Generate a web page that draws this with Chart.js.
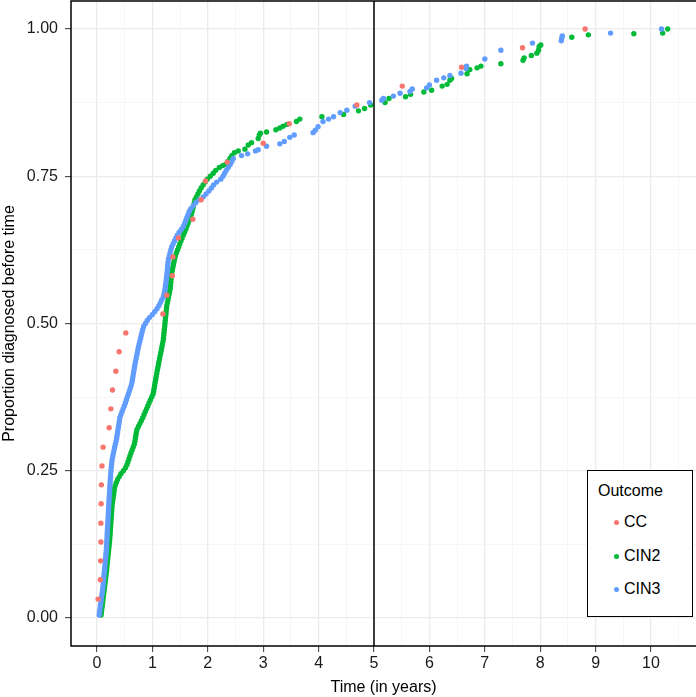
<!DOCTYPE html>
<html>
<head>
<meta charset="utf-8">
<script src="https://cdn.jsdelivr.net/npm/chart.js@4.4.0/dist/chart.umd.min.js"></script>
<style>
html, body { margin: 0; padding: 0; background: #fff; overflow: hidden; }
#wrap { position: relative; width: 696px; height: 697px; overflow: hidden; }
#legend { position: absolute; left: 587px; top: 470px; width: 106px; height: 147px; border: 1.5px solid #000; background: #fff; box-sizing: border-box; font-family: "Liberation Sans", Arial, sans-serif; font-size: 16px; color: #000; }
#legend .ttl { position: absolute; left: 10px; top: 10px; line-height: 20px; }
#legend .row { position: absolute; left: 0; height: 20px; line-height: 20px; }
#legend .dot { position: absolute; left: 26px; top: 8px; width: 5px; height: 5px; border-radius: 50%; }
#legend .lab { position: absolute; left: 36px; top: 0; white-space: nowrap; }
</style>
</head>
<body>
<div id="wrap">
  <canvas id="grafica" width="696" height="697"></canvas>
  <div id="legend"></div>
</div>
<script>
// Series names and colours (ggplot defaults)
var outcomes = ['CC', 'CIN2', 'CIN3'];
var colores = ['#F8766D', '#00BA38', '#619CFF'];

// CC: time (years) and proportion diagnosed before time
var ccYears = [0.02, 0.06, 0.065, 0.07, 0.07, 0.075, 0.08, 0.09, 0.11, 0.22, 0.25, 0.28, 0.34, 0.40, 0.52,
  1.19, 1.26, 1.36, 1.37, 1.47, 1.73, 1.88, 1.96, 2.35, 3.00, 3.47, 4.69, 5.51, 6.58, 7.68, 8.81];
var ccProp = [0.032, 0.065, 0.097, 0.129, 0.161, 0.194, 0.226, 0.258, 0.290, 0.323, 0.355, 0.387, 0.419, 0.452, 0.484,
  0.516, 0.548, 0.581, 0.613, 0.645, 0.677, 0.710, 0.742, 0.774, 0.806, 0.839, 0.871, 0.903, 0.935, 0.968, 1.000];

// CIN2
var cin2Years = [0.074, 0.081, 0.087, 0.094, 0.101, 0.107, 0.114, 0.120, 0.127, 0.134, 0.140, 0.147, 0.153, 0.160, 0.167,
  0.172, 0.178, 0.183, 0.189, 0.194, 0.199, 0.205, 0.210, 0.216, 0.221, 0.227, 0.231, 0.235, 0.239, 0.242,
  0.246, 0.250, 0.253, 0.257, 0.261, 0.264, 0.268, 0.272, 0.279, 0.286, 0.294, 0.301, 0.308, 0.315, 0.328,
  0.349, 0.372, 0.403, 0.433, 0.477, 0.515, 0.540, 0.558, 0.576, 0.594, 0.614, 0.634, 0.653, 0.673, 0.686,
  0.694, 0.702, 0.710, 0.722, 0.748, 0.774, 0.800, 0.826, 0.849, 0.872, 0.895, 0.917, 0.940, 0.964, 0.988,
  1.011, 1.023, 1.032, 1.041, 1.050, 1.060, 1.069, 1.078, 1.088, 1.098, 1.109, 1.119, 1.129, 1.139, 1.150,
  1.161, 1.171, 1.182, 1.193, 1.200, 1.206, 1.211, 1.216, 1.222, 1.227, 1.232, 1.238, 1.243, 1.248, 1.254,
  1.260, 1.271, 1.282, 1.292, 1.303, 1.314, 1.321, 1.327, 1.332, 1.337, 1.343, 1.348, 1.359, 1.369, 1.380,
  1.391, 1.402, 1.416, 1.435, 1.455, 1.475, 1.494, 1.515, 1.537, 1.559, 1.580, 1.602, 1.623, 1.643, 1.662,
  1.682, 1.701, 1.717, 1.730, 1.743, 1.756, 1.769, 1.795, 1.822, 1.848, 1.880, 1.916, 1.952, 1.991, 2.045,
  2.099, 2.143, 2.209, 2.270, 2.318, 2.360, 2.401, 2.433, 2.480,
  2.55, 2.67, 2.73, 2.79, 2.91, 2.93, 2.95, 3.06, 3.23, 3.30, 3.36, 3.43, 3.60, 3.66, 4.06, 4.45, 4.72, 4.83, 4.94,
  5.20, 5.27, 5.57, 5.66, 5.90, 6.04, 6.23, 6.32, 6.37, 6.40, 6.68, 6.73, 6.86, 6.93, 7.29, 7.69, 7.71, 7.84,
  7.94, 7.97, 7.98, 8.01, 8.57, 8.87, 9.69, 10.21, 10.30];
var cin2Prop = [0.005, 0.010, 0.015, 0.020, 0.025, 0.030, 0.035, 0.040, 0.045, 0.050, 0.055, 0.060, 0.065, 0.070, 0.075,
  0.080, 0.085, 0.090, 0.095, 0.100, 0.105, 0.110, 0.115, 0.120, 0.125, 0.130, 0.135, 0.140, 0.145, 0.150,
  0.155, 0.160, 0.165, 0.170, 0.175, 0.180, 0.185, 0.190, 0.195, 0.200, 0.205, 0.210, 0.215, 0.220, 0.225,
  0.230, 0.235, 0.240, 0.245, 0.250, 0.255, 0.260, 0.265, 0.270, 0.275, 0.280, 0.285, 0.290, 0.295, 0.300,
  0.305, 0.310, 0.315, 0.320, 0.325, 0.330, 0.335, 0.340, 0.345, 0.350, 0.355, 0.360, 0.365, 0.370, 0.375,
  0.380, 0.385, 0.390, 0.395, 0.400, 0.405, 0.410, 0.415, 0.420, 0.425, 0.430, 0.435, 0.440, 0.445, 0.450,
  0.455, 0.460, 0.465, 0.470, 0.475, 0.480, 0.485, 0.490, 0.495, 0.500, 0.505, 0.510, 0.515, 0.520, 0.525,
  0.530, 0.535, 0.540, 0.545, 0.550, 0.555, 0.560, 0.565, 0.570, 0.575, 0.580, 0.585, 0.590, 0.595, 0.600,
  0.605, 0.610, 0.615, 0.620, 0.625, 0.630, 0.635, 0.640, 0.645, 0.650, 0.655, 0.660, 0.665, 0.670, 0.675,
  0.680, 0.685, 0.690, 0.695, 0.700, 0.705, 0.710, 0.715, 0.720, 0.725, 0.730, 0.735, 0.740, 0.745, 0.750,
  0.755, 0.760, 0.765, 0.768, 0.770, 0.775, 0.780, 0.785, 0.790,
  0.793, 0.796, 0.803, 0.807, 0.814, 0.820, 0.823, 0.825, 0.829, 0.832, 0.835, 0.838, 0.843, 0.847, 0.851, 0.855, 0.861, 0.865, 0.871,
  0.875, 0.882, 0.885, 0.889, 0.893, 0.896, 0.903, 0.906, 0.913, 0.916, 0.924, 0.931, 0.934, 0.937, 0.941, 0.947, 0.951, 0.955,
  0.959, 0.964, 0.970, 0.973, 0.986, 0.990, 0.992, 0.993, 1.000];

// CIN3
var cin3Years = [0.040, 0.047, 0.054, 0.061, 0.068, 0.075, 0.082, 0.090, 0.097, 0.104, 0.110, 0.115, 0.120, 0.124, 0.129,
  0.134, 0.139, 0.144, 0.149, 0.153, 0.158, 0.163, 0.168, 0.171, 0.174, 0.177, 0.180, 0.183, 0.185, 0.188,
  0.191, 0.194, 0.197, 0.200, 0.203, 0.206, 0.209, 0.212, 0.215, 0.218, 0.221, 0.224, 0.228, 0.231, 0.234,
  0.237, 0.241, 0.244, 0.247, 0.252, 0.258, 0.263, 0.268, 0.275, 0.286, 0.297, 0.308, 0.319, 0.332, 0.345,
  0.355, 0.363, 0.371, 0.380, 0.388, 0.397, 0.405, 0.413, 0.431, 0.452, 0.472, 0.493, 0.512, 0.530, 0.548,
  0.565, 0.583, 0.601, 0.619, 0.631, 0.640, 0.649, 0.658, 0.667, 0.675, 0.684, 0.695, 0.705, 0.716, 0.727,
  0.737, 0.749, 0.761, 0.774, 0.787, 0.800, 0.813, 0.826, 0.842, 0.875, 0.907, 0.946, 0.997, 1.042, 1.083,
  1.117, 1.143, 1.168, 1.197, 1.210, 1.222, 1.231, 1.238, 1.245, 1.252, 1.259, 1.264, 1.269, 1.274, 1.279,
  1.284, 1.292, 1.306, 1.320, 1.333, 1.347, 1.373, 1.399, 1.425, 1.450, 1.483, 1.524, 1.561, 1.582, 1.602,
  1.623, 1.644, 1.665, 1.694, 1.738, 1.782, 1.844, 1.919, 1.969, 2.020, 2.065, 2.105, 2.160, 2.235, 2.274,
  2.304, 2.334, 2.370, 2.405, 2.433, 2.460,
  2.61, 2.72, 2.86, 2.91, 3.06, 3.30, 3.38, 3.48, 3.56, 3.90, 3.94, 3.99, 4.08, 4.18, 4.27, 4.39, 4.51, 4.66, 4.92,
  5.14, 5.17, 5.35, 5.47, 5.65, 5.69, 5.95, 6.00, 6.13, 6.26, 6.37, 6.57, 6.66, 6.67, 7.00, 7.29, 7.86,
  8.38, 8.39, 8.40, 9.27, 10.19];
var cin3Prop = [0.005, 0.010, 0.015, 0.020, 0.025, 0.030, 0.035, 0.040, 0.045, 0.050, 0.055, 0.060, 0.065, 0.070, 0.075,
  0.080, 0.085, 0.090, 0.095, 0.100, 0.105, 0.110, 0.115, 0.120, 0.125, 0.130, 0.135, 0.140, 0.145, 0.150,
  0.155, 0.160, 0.165, 0.170, 0.175, 0.180, 0.185, 0.190, 0.195, 0.200, 0.205, 0.210, 0.215, 0.220, 0.225,
  0.230, 0.235, 0.240, 0.245, 0.250, 0.255, 0.260, 0.265, 0.270, 0.275, 0.280, 0.285, 0.290, 0.295, 0.300,
  0.305, 0.310, 0.315, 0.320, 0.325, 0.330, 0.335, 0.340, 0.345, 0.350, 0.355, 0.360, 0.365, 0.370, 0.375,
  0.380, 0.385, 0.390, 0.395, 0.400, 0.405, 0.410, 0.415, 0.420, 0.425, 0.430, 0.435, 0.440, 0.445, 0.450,
  0.455, 0.460, 0.465, 0.470, 0.475, 0.480, 0.485, 0.490, 0.495, 0.500, 0.505, 0.510, 0.515, 0.520, 0.525,
  0.530, 0.535, 0.540, 0.545, 0.550, 0.555, 0.560, 0.565, 0.570, 0.575, 0.580, 0.585, 0.590, 0.595, 0.600,
  0.605, 0.610, 0.615, 0.620, 0.625, 0.630, 0.635, 0.640, 0.645, 0.650, 0.655, 0.660, 0.665, 0.670, 0.675,
  0.680, 0.685, 0.690, 0.695, 0.700, 0.705, 0.710, 0.715, 0.720, 0.725, 0.730, 0.735, 0.740, 0.745, 0.750,
  0.755, 0.760, 0.765, 0.770, 0.775, 0.780,
  0.785, 0.788, 0.793, 0.795, 0.801, 0.805, 0.809, 0.816, 0.820, 0.824, 0.828, 0.834, 0.843, 0.847, 0.851, 0.858, 0.862, 0.869, 0.875,
  0.879, 0.882, 0.886, 0.891, 0.894, 0.898, 0.900, 0.905, 0.913, 0.917, 0.921, 0.925, 0.933, 0.937, 0.949, 0.964, 0.976,
  0.980, 0.985, 0.988, 0.993, 1.000];

// Axis ticks (major) and minor grid positions
var xTicks = [0, 1, 2, 3, 4, 5, 6, 7, 8, 9, 10];
var xMinor = [0.5, 1.5, 2.5, 3.5, 4.5, 5.5, 6.5, 7.5, 8.5, 9.5, 10.5];
var yTicks = [0, 0.25, 0.5, 0.75, 1];
var yMinor = [0.125, 0.375, 0.625, 0.875];
var corte = 5; // vertical reference line (years)

var fuente = '"Liberation Sans", Arial, Helvetica, sans-serif';

function puntos(xs, ys) {
  return xs.map(function (x, i) { return { x: x, y: ys[i] }; });
}

function esMayor(lista, v) {
  return lista.indexOf(v) !== -1;
}

// line at x = 5 and the panel border (right side falls outside the picture)
var panelPlugin = {
  id: 'panel',
  afterDatasetsDraw: function (chart) {
    var ctx = chart.ctx;
    var a = chart.chartArea;
    var px = chart.scales.x.getPixelForValue(corte);
    ctx.save();
    ctx.strokeStyle = '#000';
    ctx.lineWidth = 1.5;
    ctx.beginPath();
    ctx.moveTo(px, a.top);
    ctx.lineTo(px, a.bottom);
    ctx.stroke();
    ctx.beginPath();
    ctx.moveTo(chart.width + 2, a.top);
    ctx.lineTo(a.left, a.top);
    ctx.lineTo(a.left, a.bottom);
    ctx.lineTo(chart.width + 2, a.bottom);
    ctx.stroke();
    ctx.restore();
  }
};

var series = [
  { label: outcomes[0], data: puntos(ccYears, ccProp), color: colores[0], order: 0 },
  { label: outcomes[2], data: puntos(cin3Years, cin3Prop), color: colores[2], order: 1 },
  { label: outcomes[1], data: puntos(cin2Years, cin2Prop), color: colores[1], order: 2 }
];

var ctx = document.getElementById('grafica').getContext('2d');
var myChart = new Chart(ctx, {
  type: 'scatter',
  data: {
    datasets: series.map(function (s) {
      return {
        label: s.label,
        data: s.data,
        order: s.order,
        backgroundColor: s.color,
        borderColor: s.color,
        borderWidth: 0,
        pointRadius: 2.7,
        pointHoverRadius: 2.7,
        showLine: false
      };
    })
  },
  options: {
    responsive: false,
    animation: false,
    devicePixelRatio: 1,
    layout: { autoPadding: false, padding: { top: 1, right: 0, left: 0, bottom: 0 } },
    plugins: { legend: { display: false }, tooltip: { enabled: false } },
    scales: {
      x: {
        type: 'linear',
        position: 'bottom',
        min: -0.469,
        max: 10.812,
        afterBuildTicks: function (s) {
          s.ticks = xTicks.concat(xMinor).sort(function (a, b) { return a - b; }).map(function (v) { return { value: v }; });
        },
        afterFit: function (s) {
          s.height = 51;
          s.paddingLeft = 0;
          s.paddingRight = 0;
        },
        border: { display: false },
        grid: {
          color: function (c) { return esMayor(xTicks, c.tick.value) ? '#EBEBEB' : '#F2F2F2'; },
          lineWidth: function (c) { return esMayor(xTicks, c.tick.value) ? 1.3 : 0.7; },
          tickLength: 6,
          tickWidth: 1,
          tickColor: function (c) { return esMayor(xTicks, c.tick.value) ? '#333' : 'rgba(0,0,0,0)'; }
        },
        ticks: {
          autoSkip: false,
          maxRotation: 0,
          padding: 2,
          color: '#1a1a1a',
          font: { family: fuente, size: 16 },
          callback: function (v) { return esMayor(xTicks, v) ? String(v) : ''; }
        },
        title: {
          display: true,
          text: 'Time (in years)',
          color: '#000',
          font: { family: fuente, size: 16 },
          padding: { top: 2, bottom: 0 }
        }
      },
      y: {
        type: 'linear',
        position: 'left',
        min: -0.0476,
        max: 1.0475,
        afterBuildTicks: function (s) {
          s.ticks = yTicks.concat(yMinor).sort(function (a, b) { return a - b; }).map(function (v) { return { value: v }; });
        },
        afterFit: function (s) {
          s.width = 71;
          s.paddingTop = 0;
          s.paddingBottom = 0;
        },
        border: { display: false },
        grid: {
          color: function (c) { return esMayor(yTicks, c.tick.value) ? '#EBEBEB' : '#F2F2F2'; },
          lineWidth: function (c) { return esMayor(yTicks, c.tick.value) ? 1.3 : 0.7; },
          tickLength: 6,
          tickWidth: 1,
          tickColor: function (c) { return esMayor(yTicks, c.tick.value) ? '#333' : 'rgba(0,0,0,0)'; }
        },
        ticks: {
          autoSkip: false,
          padding: 7,
          color: '#1a1a1a',
          font: { family: fuente, size: 16 },
          callback: function (v) { return esMayor(yTicks, v) ? v.toFixed(2) : ''; }
        },
        title: {
          display: true,
          text: 'Proportion diagnosed before time',
          color: '#000',
          font: { family: fuente, size: 16 },
          padding: { top: 0, bottom: 0 }
        }
      }
    }
  },
  plugins: [panelPlugin]
});

// HTML legend built from the series
var leyenda = document.getElementById('legend');
var html = '<div class="ttl">Outcome</div>';
var centros = [52, 86, 119];
for (var i = 0; i < outcomes.length; i++) {
  html += '<div class="row" style="top:' + (centros[i] - 11) + 'px"><span class="dot" style="background:' + colores[i] + '"></span><span class="lab">' + outcomes[i] + '</span></div>';
}
leyenda.innerHTML = html;
</script>
</body>
</html>
